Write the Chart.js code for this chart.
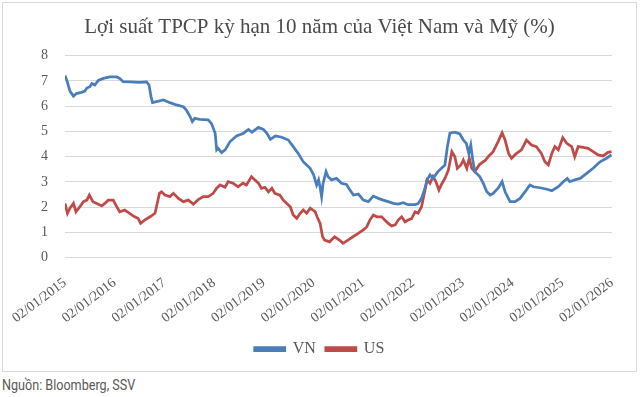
<!DOCTYPE html>
<html>
<head>
<meta charset="utf-8">
<script src="https://cdn.jsdelivr.net/npm/chart.js@4/dist/chart.umd.min.js"></script>
<style>
    body { margin: 0; background: #fff; width: 640px; height: 397px; overflow: hidden; position: relative; }
    #box { position: absolute; left: 2px; top: 2px; width: 635px; height: 370px; border: 1px solid #d9d9d9; box-sizing: border-box; }
    #myChart { position: absolute; left: 0; top: 0; }
    #source { position: absolute; left: 2px; top: 376px; font: 15px Roboto, sans-serif; color: #595959; transform: scaleX(0.84); transform-origin: left top; white-space: nowrap; }
</style>
</head>
<body>
<div id="box"><canvas id="myChart" width="633" height="368"></canvas></div>
<div id="source">Nguồn: Bloomberg, SSV</div>
<script>
// years as decimals, values in %
const vnDates = [2015.00, 2015.04, 2015.10, 2015.17, 2015.23, 2015.33, 2015.40, 2015.44, 2015.50, 2015.54, 2015.60, 2015.67, 2015.77, 2015.90,
    2016.04, 2016.10, 2016.17, 2016.31, 2016.50, 2016.64, 2016.69, 2016.73, 2016.76, 2016.84, 2016.98,
    2017.11, 2017.24, 2017.38, 2017.44, 2017.51, 2017.56, 2017.61, 2017.71, 2017.88, 2017.95,
    2018.02, 2018.05, 2018.08, 2018.15, 2018.22, 2018.32, 2018.45, 2018.59, 2018.69, 2018.76, 2018.89, 2018.99,
    2019.06, 2019.13, 2019.23, 2019.36, 2019.49, 2019.59, 2019.69, 2019.79, 2019.93,
    2020.00, 2020.06, 2020.10, 2020.13, 2020.16, 2020.19, 2020.25, 2020.29, 2020.36, 2020.46, 2020.56, 2020.66, 2020.73, 2020.80, 2020.90,
    2021.00, 2021.10, 2021.20, 2021.30, 2021.40, 2021.50, 2021.60, 2021.70, 2021.80, 2021.90,
    2022.04, 2022.10, 2022.17, 2022.24, 2022.28, 2022.34, 2022.40, 2022.50, 2022.57, 2022.64, 2022.69, 2022.74, 2022.84, 2022.94,
    2023.01, 2023.07, 2023.12, 2023.16, 2023.20, 2023.24, 2023.34, 2023.41, 2023.48, 2023.55, 2023.61, 2023.71, 2023.79, 2023.85, 2023.95,
    2024.05, 2024.15, 2024.25, 2024.35, 2024.42, 2024.55, 2024.69, 2024.79, 2024.92,
    2025.02, 2025.10, 2025.15, 2025.25, 2025.36, 2025.49, 2025.62, 2025.76, 2025.89, 2025.99];
const vnYield = [7.22, 7.00, 6.60, 6.40, 6.50, 6.55, 6.60, 6.72, 6.77, 6.90, 6.84, 7.02, 7.10, 7.16,
    7.16, 7.10, 6.97, 6.96, 6.94, 6.96, 6.84, 6.38, 6.14, 6.18, 6.25,
    6.14, 6.05, 5.98, 5.85, 5.61, 5.39, 5.52, 5.48, 5.46, 5.30,
    4.93, 4.27, 4.33, 4.16, 4.27, 4.60, 4.82, 4.93, 5.08, 4.97, 5.16, 5.08,
    4.93, 4.69, 4.82, 4.77, 4.66, 4.40, 4.13, 3.80, 3.54,
    3.28, 2.88, 3.08, 2.79, 2.42, 2.95, 3.41, 3.21, 3.08, 3.14, 2.95, 2.90, 2.68, 2.48, 2.52,
    2.28, 2.22, 2.44, 2.35, 2.28, 2.22, 2.15, 2.12, 2.18, 2.10,
    2.10, 2.14, 2.35, 2.75, 3.08, 3.28, 3.14, 3.41, 3.54, 3.67, 4.40, 4.93, 4.97, 4.90,
    4.66, 4.53, 4.13, 4.46, 3.87, 3.41, 3.21, 2.95, 2.62, 2.48, 2.55, 2.75, 3.01, 2.61, 2.22,
    2.22, 2.35, 2.61, 2.88, 2.81, 2.77, 2.71, 2.65, 2.81,
    3.01, 3.14, 3.01, 3.08, 3.14, 3.34, 3.54, 3.80, 3.94, 4.07];

const usDates = [2015.00, 2015.05, 2015.10, 2015.17, 2015.22, 2015.30, 2015.37, 2015.44, 2015.49, 2015.56, 2015.64, 2015.74, 2015.80, 2015.87, 2015.97,
    2016.04, 2016.10, 2016.20, 2016.30, 2016.40, 2016.47, 2016.52, 2016.60, 2016.71, 2016.81, 2016.84, 2016.90, 2016.94,
    2017.01, 2017.11, 2017.18, 2017.28, 2017.38, 2017.48, 2017.58, 2017.68, 2017.78, 2017.88, 2017.98,
    2018.05, 2018.12, 2018.22, 2018.28, 2018.38, 2018.48, 2018.58, 2018.65, 2018.75, 2018.82, 2018.89, 2018.95,
    2019.02, 2019.09, 2019.16, 2019.22, 2019.32, 2019.39, 2019.46, 2019.53, 2019.59, 2019.66, 2019.73, 2019.79, 2019.86, 2019.93,
    2020.03, 2020.07, 2020.13, 2020.18, 2020.22, 2020.32, 2020.42, 2020.52, 2020.59, 2020.69, 2020.79, 2020.89,
    2021.00, 2021.07, 2021.13, 2021.20, 2021.27, 2021.37, 2021.43, 2021.50, 2021.57, 2021.64, 2021.70, 2021.77, 2021.84, 2021.90, 2021.97,
    2022.04, 2022.10, 2022.17, 2022.24, 2022.28, 2022.34, 2022.40, 2022.46, 2022.52, 2022.57, 2022.64, 2022.71, 2022.78, 2022.84, 2022.89, 2022.96,
    2023.01, 2023.08, 2023.13, 2023.18, 2023.24, 2023.34, 2023.45, 2023.51, 2023.61, 2023.71, 2023.79, 2023.85, 2023.92, 2023.98,
    2024.08, 2024.18, 2024.28, 2024.38, 2024.48, 2024.58, 2024.65, 2024.72, 2024.79, 2024.85, 2024.92,
    2025.01, 2025.09, 2025.19, 2025.25, 2025.32, 2025.42, 2025.52, 2025.62, 2025.72, 2025.82, 2025.92, 2025.99];
const usYield = [2.15, 1.76, 1.96, 2.15, 1.82, 2.02, 2.22, 2.28, 2.48, 2.22, 2.15, 2.05, 2.15, 2.28, 2.28,
    2.02, 1.82, 1.89, 1.76, 1.62, 1.56, 1.36, 1.49, 1.62, 1.76, 2.02, 2.55, 2.61,
    2.48, 2.42, 2.55, 2.35, 2.22, 2.28, 2.12, 2.30, 2.42, 2.42, 2.55,
    2.75, 2.88, 2.79, 3.01, 2.95, 2.81, 2.95, 2.88, 3.21, 3.08, 2.95, 2.75,
    2.79, 2.61, 2.75, 2.55, 2.48, 2.28, 2.15, 2.02, 1.69, 1.56, 1.76, 1.89, 1.76, 1.96,
    1.82, 1.62, 1.36, 0.83, 0.70, 0.63, 0.83, 0.70, 0.57, 0.70, 0.83, 0.95,
    1.10, 1.23, 1.49, 1.69, 1.62, 1.62, 1.49, 1.36, 1.26, 1.30, 1.49, 1.62, 1.42, 1.49, 1.55,
    1.82, 1.76, 2.02, 2.68, 3.08, 2.95, 3.21, 3.00, 2.68, 2.90, 3.14, 3.47, 4.20, 4.00, 3.54, 3.67,
    3.87, 3.54, 3.94, 3.54, 3.41, 3.70, 3.85, 4.00, 4.20, 4.60, 4.95, 4.66, 4.13, 3.94,
    4.13, 4.27, 4.66, 4.46, 4.40, 4.13, 3.80, 3.67, 4.13, 4.40, 4.27,
    4.75, 4.53, 4.40, 4.00, 4.40, 4.37, 4.33, 4.20, 4.07, 4.03, 4.17, 4.20];

const tickLabels = ['02/01/2015', '02/01/2016', '02/01/2017', '02/01/2018', '02/01/2019', '02/01/2020',
    '02/01/2021', '02/01/2022', '02/01/2023', '02/01/2024', '02/01/2025', '02/01/2026'];
const seriesNames = ['VN', 'US'];

document.addEventListener('DOMContentLoaded', function () {
    function toPoints(dates, values) {
        return dates.map(function (d, i) { return { x: d, y: values[i] }; });
    }

    const ctx = document.getElementById('myChart').getContext('2d');
    const serif = '"Liberation Serif", "Times New Roman", serif';

    new Chart(ctx, {
        type: 'line',
        data: {
            datasets: [{
                label: seriesNames[0],
                data: toPoints(vnDates, vnYield),
                borderColor: '#4a7ebb',
                backgroundColor: '#4a7ebb',
                borderWidth: 2.75,
                pointRadius: 0
            }, {
                label: seriesNames[1],
                data: toPoints(usDates, usYield),
                borderColor: '#be4b48',
                backgroundColor: '#be4b48',
                borderWidth: 2.75,
                pointRadius: 0
            }]
        },
        options: {
            responsive: false,
            animation: false,
            devicePixelRatio: 1,
            layout: { padding: { left: 0, right: 0, top: 0, bottom: 4 } },
            plugins: {
                title: {
                    display: true,
                    text: 'Lợi suất TPCP kỳ hạn 10 năm của Việt Nam và Mỹ (%)',
                    color: '#4a4a4a',
                    font: { family: serif, size: 21, weight: 'normal' },
                    padding: { top: 12, bottom: 15.5 }
                },
                legend: {
                    position: 'bottom',
                    labels: {
                        color: '#595959',
                        font: { family: serif, size: 16 },
                        boxWidth: 30,
                        boxHeight: 3,
                        padding: 10
                    }
                },
                tooltip: { enabled: false }
            },
            scales: {
                x: {
                    type: 'linear',
                    min: 2015,
                    max: 2026,
                    grid: { display: false },
                    border: { display: false },
                    afterFit: function (scale) { scale.height = 73.3; },
                    ticks: {
                        stepSize: 1,
                        autoSkip: false,
                        minRotation: 37,
                        maxRotation: 37,
                        padding: 9,
                        color: '#595959',
                        font: { family: serif, size: 14 },
                        callback: function (value) { return tickLabels[Math.round(value - 2015)]; }
                    }
                },
                y: {
                    min: 0,
                    max: 8,
                    grid: { color: '#d9d9d9', lineWidth: 1, drawTicks: false },
                    border: { display: false },
                    afterFit: function (scale) { scale.width = 62; },
                    ticks: {
                        stepSize: 1,
                        padding: 17,
                        color: '#595959',
                        font: { family: serif, size: 14 }
                    }
                },
                // empty right axis only keeps the plot clear of the right border
                yRight: {
                    position: 'right',
                    min: 0,
                    max: 8,
                    grid: { display: false },
                    border: { display: false },
                    ticks: { display: false },
                    afterFit: function (scale) { scale.width = 24; }
                }
            }
        }
    });
});
</script>
</body>
</html>
